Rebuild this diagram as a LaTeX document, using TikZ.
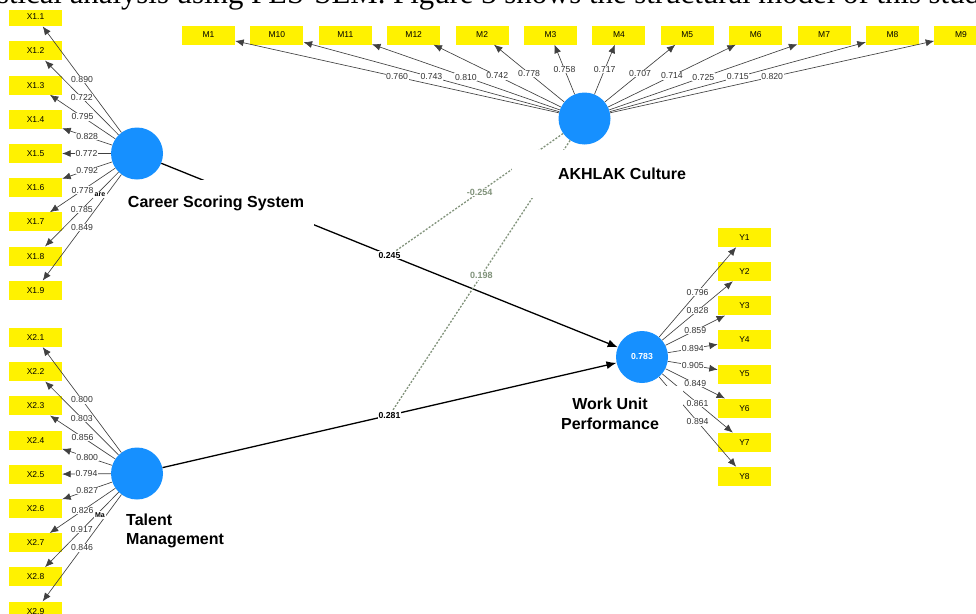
\documentclass[tikz,border=0pt]{standalone}
\usepackage{fontspec}
\setmainfont{Liberation Sans}
\newfontfamily\headfont{Liberation Serif}
\usetikzlibrary{arrows.meta}
\definecolor{lvblue}{RGB}{22,144,255}
\definecolor{modgreen}{RGB}{128,146,122}
\tikzset{
  latent/.style={circle,fill=lvblue,minimum size=52pt,inner sep=0pt},
  ind/.style={fill=yellow,minimum width=53pt,minimum height=19pt,inner sep=0pt,font=\fontsize{8.5}{10}\selectfont},
  load/.style={draw=black!75,line width=0.65pt,-{Latex[length=8.5pt,width=7pt]}},
  loadlbl/.style={fill=white,inner sep=0.6pt,text=black!80,font=\fontsize{8.7}{10}\selectfont},
  struct/.style={draw=black,line width=1.3pt,-{Latex[length=10pt,width=8pt]}},
  pathlbl/.style={fill=white,inner sep=1pt,font=\bfseries\fontsize{8.7}{10}\selectfont},
  moder/.style={draw=modgreen,line width=1.3pt,dash pattern=on 2pt off 1.6pt},
  modlbl/.style={fill=white,inner sep=1pt,text=modgreen,font=\bfseries\fontsize{9}{10}\selectfont},
  latlbl/.style={fill=white,inner sep=0pt,font=\bfseries\fontsize{16}{19.5}\selectfont},
  fraglbl/.style={fill=white,inner sep=1.5pt,font=\bfseries\fontsize{7}{8}\selectfont},
}
\begin{document}
\begin{tikzpicture}[x=1pt,y=-1pt,line join=round]
\useasboundingbox (0,0) rectangle (976,613);
\clip (0,0) rectangle (976,613);

% latent variables
\node[latent] (css) at (137,153.5) {};
\node[latent] (tm) at (137,473.5) {};
\node[latent] (akh) at (584.5,118.5) {};
\node[latent,text=white,font=\bfseries\fontsize{8.7}{10}\selectfont] (wup) at (642,357) {0.783};

% indicators
\node[ind] (x11) at (35.5,16.7) {X1.1};
\node[ind] (x12) at (35.5,50.9) {X1.2};
\node[ind] (x13) at (35.5,85.1) {X1.3};
\node[ind] (x14) at (35.5,119.3) {X1.4};
\node[ind] (x15) at (35.5,153.5) {X1.5};
\node[ind] (x16) at (35.5,187.7) {X1.6};
\node[ind] (x17) at (35.5,221.9) {X1.7};
\node[ind] (x18) at (35.5,256.1) {X1.8};
\node[ind] (x19) at (35.5,290.3) {X1.9};

\node[ind] (x21) at (35.5,337.5) {X2.1};
\node[ind] (x22) at (35.5,371.7) {X2.2};
\node[ind] (x23) at (35.5,405.9) {X2.3};
\node[ind] (x24) at (35.5,440.1) {X2.4};
\node[ind] (x25) at (35.5,474.3) {X2.5};
\node[ind] (x26) at (35.5,508.5) {X2.6};
\node[ind] (x27) at (35.5,542.7) {X2.7};
\node[ind] (x28) at (35.5,576.9) {X2.8};
\node[ind] (x29) at (35.5,611.1) {X2.9};

\node[ind] (m1) at (208.5,35) {M1};
\node[ind] (m10) at (276.9,35) {M10};
\node[ind] (m11) at (345.3,35) {M11};
\node[ind] (m12) at (413.7,35) {M12};
\node[ind] (m2) at (482.1,35) {M2};
\node[ind] (m3) at (550.5,35) {M3};
\node[ind] (m4) at (618.9,35) {M4};
\node[ind] (m5) at (687.3,35) {M5};
\node[ind] (m6) at (755.7,35) {M6};
\node[ind] (m7) at (824.1,35) {M7};
\node[ind] (m8) at (892.5,35) {M8};
\node[ind] (m9) at (960.9,35) {M9};

\node[ind] (y1) at (744.5,237.5) {Y1};
\node[ind] (y2) at (744.5,271.6) {Y2};
\node[ind] (y3) at (744.5,305.8) {Y3};
\node[ind] (y4) at (744.5,339.9) {Y4};
\node[ind] (y5) at (744.5,374.1) {Y5};
\node[ind] (y6) at (744.5,408.2) {Y6};
\node[ind] (y7) at (744.5,442.3) {Y7};
\node[ind] (y8) at (744.5,476.5) {Y8};

% outer loadings
\draw[load] (css) -- node[loadlbl] {0.890} (x11);
\draw[load] (css) -- node[loadlbl] {0.722} (x12);
\draw[load] (css) -- node[loadlbl] {0.795} (x13);
\draw[load] (css) -- node[loadlbl] {0.828} (x14);
\draw[load] (css) -- node[loadlbl] {0.772} (x15);
\draw[load] (css) -- node[loadlbl] {0.792} (x16);
\draw[load] (css) -- node[loadlbl] {0.778} (x17);
\draw[load] (css) -- node[loadlbl] {0.785} (x18);
\draw[load] (css) -- node[loadlbl] {0.849} (x19);

\draw[load] (tm) -- node[loadlbl] {0.800} (x21);
\draw[load] (tm) -- node[loadlbl] {0.803} (x22);
\draw[load] (tm) -- node[loadlbl] {0.856} (x23);
\draw[load] (tm) -- node[loadlbl] {0.800} (x24);
\draw[load] (tm) -- node[loadlbl] {0.794} (x25);
\draw[load] (tm) -- node[loadlbl] {0.827} (x26);
\draw[load] (tm) -- node[loadlbl] {0.826} (x27);
\draw[load] (tm) -- node[loadlbl] {0.917} (x28);
\draw[load] (tm) -- node[loadlbl] {0.846} (x29);

\draw[load] (akh) -- node[loadlbl] {0.760} (m1);
\draw[load] (akh) -- node[loadlbl] {0.743} (m10);
\draw[load] (akh) -- node[loadlbl] {0.810} (m11);
\draw[load] (akh) -- node[loadlbl] {0.742} (m12);
\draw[load] (akh) -- node[loadlbl] {0.778} (m2);
\draw[load] (akh) -- node[loadlbl] {0.758} (m3);
\draw[load] (akh) -- node[loadlbl] {0.717} (m4);
\draw[load] (akh) -- node[loadlbl] {0.707} (m5);
\draw[load] (akh) -- node[loadlbl] {0.714} (m6);
\draw[load] (akh) -- node[loadlbl] {0.725} (m7);
\draw[load] (akh) -- node[loadlbl] {0.715} (m8);
\draw[load] (akh) -- node[loadlbl] {0.820} (m9);

\draw[load] (wup) -- node[loadlbl] {0.796} (y1);
\draw[load] (wup) -- node[loadlbl] {0.828} (y2);
\draw[load] (wup) -- node[loadlbl] {0.859} (y3);
\draw[load] (wup) -- node[loadlbl] {0.894} (y4);
\draw[load] (wup) -- node[loadlbl] {0.905} (y5);
\draw[load] (wup) -- node[loadlbl] {0.849} (y6);
\draw[load] (wup) -- node[loadlbl] {0.861} (y7);
\draw[load] (wup) -- node[loadlbl] {0.894} (y8);

% inner model
\draw[struct] (css) -- node[pathlbl] (b1) {0.245} (wup);
\draw[struct] (tm) -- node[pathlbl] (b2) {0.281} (wup);

% moderating effects
\draw[moder] (akh) -- node[modlbl] {-0.254} (b1);
\draw[moder] (akh) -- node[modlbl] {0.198} (b2);

% construct names
\node[latlbl,minimum width=196pt,minimum height=46pt] (csslbl) at (216,203) {Career Scoring System};
\node[latlbl,align=left,anchor=west] (tmlbl) at (126,531) {Talent\\Management};
\node[latlbl,minimum width=220pt,minimum height=48pt] (akhlbl) at (622,174) {AKHLAK Culture};
\node[latlbl,align=center,minimum width=146pt,minimum height=56pt] (wuplbl) at (610,414) {Work Unit\\Performance};
\node[fraglbl] (frag1) at (100,195) {are};
\node[fraglbl] (frag2) at (100,515) {Ma};

% text line of the page above
\node[anchor=base west,fill=white,inner sep=0.5pt,font=\headfont\fontsize{30.8}{36}\selectfont] (head) at (-55,3) {statistical analysis using PLS-SEM. Figure 3 shows the structural model of this study};
\end{tikzpicture}
\end{document}
